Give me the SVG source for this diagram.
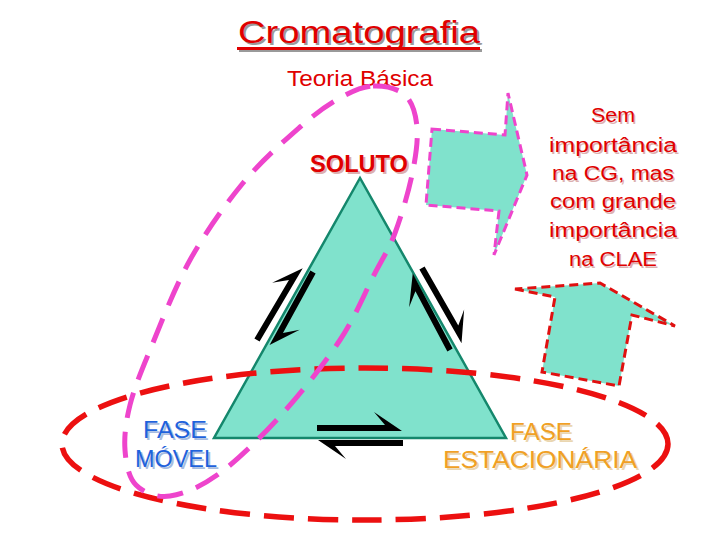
<svg xmlns="http://www.w3.org/2000/svg" width="720" height="540" viewBox="0 0 720 540">
<style>
text{font-family:"Liberation Sans","DejaVu Sans",sans-serif;text-anchor:middle}
.red{fill:#e00000}
.shr{fill:#dcb0b0}
.shg{fill:#9a9a9a}
.blue{fill:#1e62dc}
.shb{fill:#a8bce0}
.org{fill:#f0a024}
.sho{fill:#ead6b0}
.tri{fill:#80e2cc;stroke:#14876c;stroke-width:2.5}
.hp{fill:#000}
</style>
<defs>
<path id="hp" d="M0,-3 H68 L57,-16 L85,3 H0 Z"/>
</defs>
<rect width="720" height="540" fill="#fff"/>
<g id="title">
<text x="361" y="45" class="shg" font-size="31" textLength="242" lengthAdjust="spacingAndGlyphs">Cromatografia</text>
<rect x="239" y="49" width="243" height="3" class="shg"/>
<text x="359" y="43" class="red" font-size="31" textLength="242" lengthAdjust="spacingAndGlyphs">Cromatografia</text>
<rect x="237" y="47" width="243" height="3" class="red"/>
</g>
<g id="subtitle">
<text x="360" y="86" class="red" font-size="22" textLength="146" lengthAdjust="spacingAndGlyphs">Teoria Básica</text>
</g>
<g id="triangle">
<polygon class="tri" points="360,178 214,438 506,438"/>
</g>
<g id="connectors">
<use href="#hp" class="hp" transform="translate(257,340) rotate(-59.5)"/>
<use href="#hp" class="hp" transform="translate(313,272) rotate(118.7)"/>
<use href="#hp" class="hp" transform="translate(422,268) rotate(60.3)"/>
<use href="#hp" class="hp" transform="translate(450,350) rotate(-118)"/>
<use href="#hp" class="hp" transform="translate(317,428)"/>
<use href="#hp" class="hp" transform="translate(403,443) rotate(180)"/>
</g>
<g id="arrow-right">
<polygon points="432,129 505,135 508,93 527,175 494,255 499,211 426,205" fill="#80e2cc" stroke="#ee44cc" stroke-width="3" stroke-dasharray="9 5"/>
</g>
<g id="arrow-up">
<polygon points="515,289 555,297 542,372 619,386 632,315 675,326 600,283" fill="#80e2cc" stroke="#e01010" stroke-width="3" stroke-dasharray="9 5"/>
</g>
<g id="fase-ellipse">
<ellipse cx="365" cy="444" rx="303" ry="76" fill="none" stroke="#ec1010" stroke-width="5.5" stroke-dasharray="30 14"/>
</g>
<g id="soluto-loop">
<path fill="none" stroke="#ee44cc" stroke-width="5" stroke-dasharray="26 14" d="M373,86 C383.8,85.5 397.7,88.2 405,95 C412.3,101.8 415.8,113.7 417,127 C418.2,140.3 415.7,157.3 412,175 C408.3,192.7 401.3,216.3 395,233 C388.7,249.7 383.2,257.2 374,275 C364.8,292.8 355.2,317 340,340 C324.8,363 303,390.8 283,413 C263,435.2 238.8,459.2 220,473 C201.2,486.8 184,494 170,496 C156,498 143.5,492.7 136,485 C128.5,477.3 126,463.3 125,450 C124,436.7 125.8,421.7 130,405 C134.2,388.3 140,374.2 150,350 C160,325.8 174.5,287.8 190,260 C205.5,232.2 224.7,205.2 243,183 C261.3,160.8 283.8,141.2 300,127 C316.2,112.8 327.8,104.8 340,98 C352.2,91.2 362.2,86.5 373,86 Z"/>
</g>
<g id="soluto">
<text x="361" y="174" class="shr" font-size="23" font-weight="bold" textLength="98" lengthAdjust="spacingAndGlyphs">SOLUTO</text>
<text x="359" y="172" class="red" font-size="23" font-weight="bold" textLength="98" lengthAdjust="spacingAndGlyphs">SOLUTO</text>
</g>
<g id="note" font-size="20">
<g class="shr" transform="translate(1.5,1.5)">
<text x="613" y="122" textLength="44" lengthAdjust="spacingAndGlyphs">Sem</text>
<text x="613" y="152" textLength="128" lengthAdjust="spacingAndGlyphs">importância</text>
<text x="613" y="180" textLength="122" lengthAdjust="spacingAndGlyphs">na CG, mas</text>
<text x="613" y="208" textLength="126" lengthAdjust="spacingAndGlyphs">com grande</text>
<text x="613" y="237" textLength="128" lengthAdjust="spacingAndGlyphs">importância</text>
<text x="613" y="266" textLength="88" lengthAdjust="spacingAndGlyphs">na CLAE</text>
</g>
<g class="red">
<text x="613" y="122" textLength="44" lengthAdjust="spacingAndGlyphs">Sem</text>
<text x="613" y="152" textLength="128" lengthAdjust="spacingAndGlyphs">importância</text>
<text x="613" y="180" textLength="122" lengthAdjust="spacingAndGlyphs">na CG, mas</text>
<text x="613" y="208" textLength="126" lengthAdjust="spacingAndGlyphs">com grande</text>
<text x="613" y="237" textLength="128" lengthAdjust="spacingAndGlyphs">importância</text>
<text x="613" y="266" textLength="88" lengthAdjust="spacingAndGlyphs">na CLAE</text>
</g>
</g>
<g id="fase-movel" font-size="23">
<text x="177" y="440" class="shb" textLength="64" lengthAdjust="spacingAndGlyphs">FASE</text>
<text x="178" y="469" class="shb" textLength="82" lengthAdjust="spacingAndGlyphs">MÓVEL</text>
<text x="175" y="438" class="blue" textLength="64" lengthAdjust="spacingAndGlyphs">FASE</text>
<text x="176" y="467" class="blue" textLength="82" lengthAdjust="spacingAndGlyphs">MÓVEL</text>
</g>
<g id="fase-estacionaria" font-size="23">
<text x="543" y="442" class="sho" textLength="62" lengthAdjust="spacingAndGlyphs">FASE</text>
<text x="542" y="470" class="sho" textLength="194" lengthAdjust="spacingAndGlyphs">ESTACIONÁRIA</text>
<text x="541" y="440" class="org" textLength="62" lengthAdjust="spacingAndGlyphs">FASE</text>
<text x="540" y="468" class="org" textLength="194" lengthAdjust="spacingAndGlyphs">ESTACIONÁRIA</text>
</g>
</svg>
